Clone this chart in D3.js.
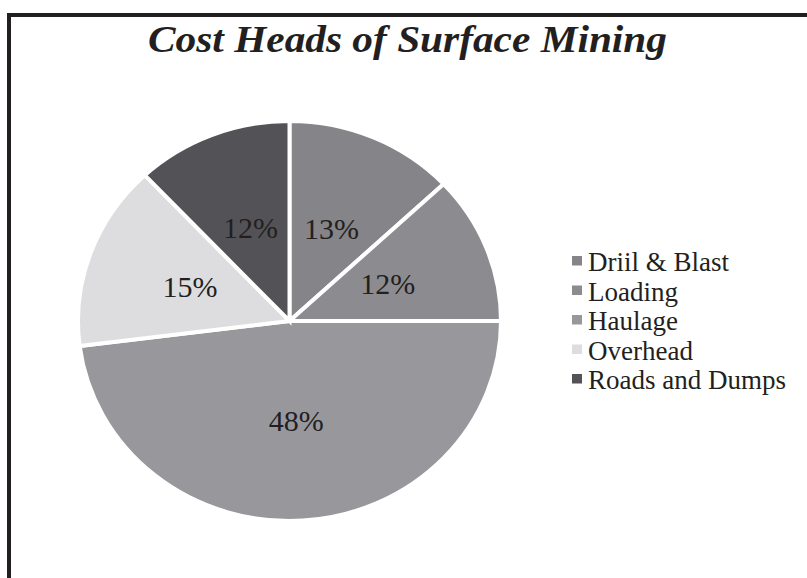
<!DOCTYPE html>
<html>
<head>
<meta charset="utf-8">
<script src="https://cdn.jsdelivr.net/npm/d3@7.9.0/dist/d3.min.js"></script>
<style>
  body { margin: 0; background: #fff; }
  svg { display: block; font-family: "Liberation Serif", "Times New Roman", serif; }
</style>
</head>
<body>
<svg id="chart" width="807" height="578"></svg>
<script>
// Chart data
const categories = ["Driil & Blast", "Loading", "Haulage", "Overhead", "Roads and Dumps"];
const shares = [13, 12, 48, 15, 12];
const sliceColors = ["#848489", "#8c8c90", "#98989c", "#dddde0", "#535357"];
const title = "Cost Heads of Surface Mining";

const svg = d3.select("#chart");
const ink = "#231f20";

// Frame (only top and left edges are visible in the original)
svg.append("path")
  .attr("d", "M9,578 V15 H807")
  .attr("fill", "none")
  .attr("stroke", ink)
  .attr("stroke-width", 4);

// Title
svg.append("text")
  .attr("x", 148)
  .attr("y", 52)
  .attr("textLength", 519)
  .attr("lengthAdjust", "spacingAndGlyphs")
  .attr("font-size", 38)
  .attr("font-weight", "bold")
  .attr("font-style", "italic")
  .attr("fill", ink)
  .text(title);

// Pie (slightly wider than tall, like the source picture)
const cx = 289.5, cy = 321;
const ry = 200, stretch = 1.0575;

const pie = d3.pie().sort(null).value((d) => d);
const arcData = pie(shares);

const arc = d3.arc().innerRadius(0).outerRadius(ry);
const labelArc = d3.arc().innerRadius(100).outerRadius(100);

const g = svg.append("g")
  .attr("transform", `translate(${cx},${cy}) scale(${stretch},1)`);

g.selectAll("path")
  .data(arcData)
  .enter()
  .append("path")
  .attr("d", arc)
  .attr("fill", (_, i) => sliceColors[i])
  .attr("stroke", "#fff")
  .attr("stroke-width", 4)
  .attr("vector-effect", "non-scaling-stroke");

// Percentage labels
svg.append("g")
  .selectAll("text")
  .data(arcData)
  .enter()
  .append("text")
  .attr("x", (d) => cx + labelArc.centroid(d)[0] * stretch)
  .attr("y", (d) => cy + labelArc.centroid(d)[1])
  .attr("dy", "0.34em")
  .attr("text-anchor", "middle")
  .attr("font-size", 30)
  .attr("fill", ink)
  .text((d) => d.data + "%");

// Legend
const legend = svg.append("g")
  .attr("transform", "translate(572,271)");

const rows = legend.selectAll("g")
  .data(categories)
  .enter()
  .append("g")
  .attr("transform", (_, i) => `translate(0,${i * 29.5})`);

rows.append("rect")
  .attr("x", 0)
  .attr("y", -15)
  .attr("width", 10)
  .attr("height", 9.5)
  .attr("fill", (_, i) => sliceColors[i]);

rows.append("text")
  .attr("x", 16)
  .attr("y", 0)
  .attr("font-size", 27)
  .attr("fill", ink)
  .text((d) => d);
</script>
</body>
</html>
